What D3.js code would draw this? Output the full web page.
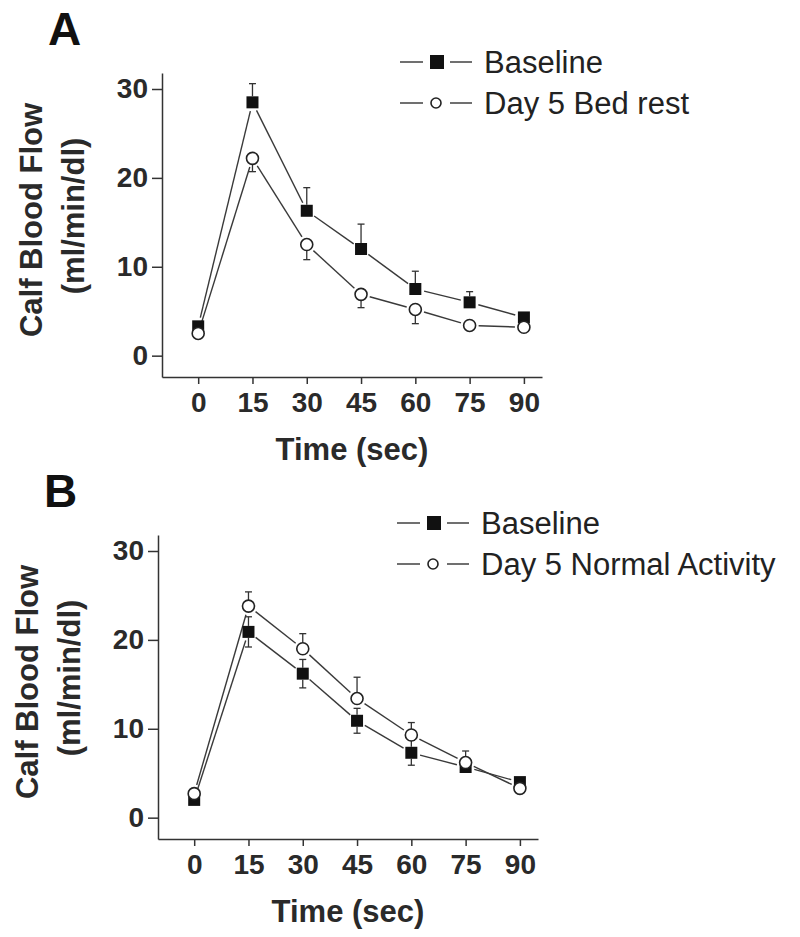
<!DOCTYPE html>
<html><head><meta charset="utf-8">
<script src="https://cdn.jsdelivr.net/npm/d3@7"></script>
<style>
html,body{margin:0;padding:0;background:#fff;}
svg{display:block;font-family:"Liberation Sans",Arial,sans-serif;}
</style></head>
<body>
<svg id="chart" width="800" height="937"></svg>
<script>
// ---- data ----
const times = [0, 15, 30, 45, 60, 75, 90];
const xTicks = [0, 15, 30, 45, 60, 75, 90];
const yTicks = [0, 10, 20, 30];

const baselineA    = [3.3, 28.5, 16.3, 12.0, 7.5, 6.0, 4.3];
const baselineA_se = [0.3, 2.1, 2.6, 2.8, 2.0, 1.2, 0.3];
const bedRest      = [2.5, 22.2, 12.5, 6.9, 5.2, 3.4, 3.2];
const bedRest_se   = [0.3, 1.5, 1.7, 1.5, 1.6, 0.3, 0.4];

const baselineB    = [2.0, 20.9, 16.2, 10.9, 7.3, 5.7, 4.0];
const baselineB_se = [0.3, 1.7, 1.6, 1.4, 1.4, 0.7, 0.3];
const normalAct    = [2.7, 23.8, 19.0, 13.4, 9.3, 6.2, 3.3];
const normalAct_se = [0.3, 1.6, 1.7, 2.4, 1.4, 1.3, 0.3];

const legendA = ["Baseline", "Day 5 Bed rest"];
const legendB = ["Baseline", "Day 5 Normal Activity"];

const yLabel1 = "Calf Blood Flow";
const yLabel2 = "(ml/min/dl)";
const xLabel = "Time (sec)";

// ---- drawing ----
const svg = d3.select("#chart");
const INK = "#2a2a2a";

function panel(cfg) {
  const g = svg.append("g");
  const x = d3.scaleLinear().domain([-10, 95]).range([cfg.left, cfg.left + 380]);
  const y = d3.scaleLinear().domain([-2.4, 31.8]).range([cfg.bottom, cfg.bottom - 304]);

  const ya = g.append("g").attr("transform", `translate(${cfg.left},0)`)
    .call(d3.axisLeft(y).tickValues(yTicks).tickSize(10).tickSizeOuter(0).tickPadding(4));
  ya.selectAll("text").attr("font-size", 28).attr("font-weight", "bold").attr("fill", INK)
    .attr("font-family", "Liberation Sans, Arial, sans-serif");
  const xa = g.append("g").attr("transform", `translate(0,${cfg.bottom})`)
    .call(d3.axisBottom(x).tickValues(xTicks).tickSize(7).tickSizeOuter(0).tickPadding(8));
  xa.selectAll("text").attr("font-size", 28).attr("font-weight", "bold").attr("fill", INK)
    .attr("font-family", "Liberation Sans, Arial, sans-serif");
  g.selectAll(".domain, .tick line").attr("stroke", "#333").attr("stroke-width", 1.5);

  g.append("text").attr("x", cfg.left - 114).attr("y", cfg.bottom - 332)
    .attr("font-size", 46).attr("font-weight", "bold").attr("fill", "#111").text(cfg.letter);

  const cy = cfg.bottom - 157;
  g.append("text").attr("transform", `translate(${cfg.left - 120},${cy}) rotate(-90)`)
    .attr("text-anchor", "middle").attr("font-size", 31).attr("font-weight", "bold").attr("fill", INK)
    .text(yLabel1);
  g.append("text").attr("transform", `translate(${cfg.left - 78},${cy - 4}) rotate(-90)`)
    .attr("text-anchor", "middle").attr("font-size", 31).attr("font-weight", "bold").attr("fill", INK)
    .text(yLabel2);
  g.append("text").attr("x", cfg.left + 190).attr("y", cfg.bottom + 83)
    .attr("text-anchor", "middle").attr("font-size", 31).attr("font-weight", "bold").attr("fill", INK)
    .text(xLabel);

  const gap = 9;
  cfg.series.forEach(s => {
    const pts = times.map((t, i) => [x(t), y(s.values[i])]);
    const segs = d3.pairs(pts).map(([a, b]) => {
      const dx = b[0] - a[0], dy = b[1] - a[1], L = Math.hypot(dx, dy);
      const ux = dx / L, uy = dy / L;
      return [a[0] + ux * gap, a[1] + uy * gap, b[0] - ux * gap, b[1] - uy * gap];
    });
    g.append("g").selectAll("line").data(segs).join("line")
      .attr("x1", d => d[0]).attr("y1", d => d[1]).attr("x2", d => d[2]).attr("y2", d => d[3])
      .attr("stroke", "#3a3a3a").attr("stroke-width", 1.4);
  });

  cfg.series.forEach(s => {
    const eg = g.append("g").attr("stroke", "#333").attr("stroke-width", 1.3);
    times.forEach((t, i) => {
      const cx = x(t);
      s.dirs.forEach(dir => {
        const v = s.values[i] + dir * s.se[i];
        const y0 = y(s.values[i]), y1 = y(v);
        if (Math.abs(y1 - y0) < 6.5) return;
        eg.append("line").attr("x1", cx).attr("x2", cx).attr("y1", y0 - dir * 6).attr("y2", y1);
        eg.append("line").attr("x1", cx - 3.5).attr("x2", cx + 3.5).attr("y1", y1).attr("y2", y1);
      });
    });
  });

  cfg.series.forEach(s => {
    const mg = g.append("g");
    times.forEach((t, i) => {
      const cx = x(t), cyy = y(s.values[i]);
      if (s.shape === "square") {
        mg.append("rect").attr("x", cx - 6).attr("y", cyy - 6).attr("width", 12).attr("height", 12)
          .attr("fill", "#111");
      } else {
        mg.append("circle").attr("cx", cx).attr("cy", cyy).attr("r", 6)
          .attr("fill", "#fff").attr("stroke", "#222").attr("stroke-width", 1.6);
      }
    });
  });

  const lg = g.append("g");
  cfg.series.forEach((s, i) => {
    const ly = cfg.legendY + i * 41;
    const lx = cfg.legendX;
    lg.append("line").attr("x1", lx).attr("x2", lx + 23).attr("y1", ly).attr("y2", ly)
      .attr("stroke", "#333").attr("stroke-width", 1.4);
    lg.append("line").attr("x1", lx + 50).attr("x2", lx + 72).attr("y1", ly).attr("y2", ly)
      .attr("stroke", "#333").attr("stroke-width", 1.4);
    if (s.shape === "square") {
      lg.append("rect").attr("x", lx + 30).attr("y", ly - 7).attr("width", 14).attr("height", 14).attr("fill", "#111");
    } else {
      lg.append("circle").attr("cx", lx + 36).attr("cy", ly).attr("r", 5)
        .attr("fill", "#fff").attr("stroke", "#222").attr("stroke-width", 1.6);
    }
    lg.append("text").attr("x", lx + 84).attr("y", ly).attr("dy", "0.36em")
      .attr("font-size", 31).attr("fill", "#222").text(cfg.legend[i]);
  });
}

panel({
  letter: "A", left: 162, bottom: 377, legendX: 400, legendY: 62, legend: legendA,
  series: [
    { values: baselineA, se: baselineA_se, dirs: [1], shape: "square" },
    { values: bedRest, se: bedRest_se, dirs: [-1], shape: "circle" }
  ]
});
panel({
  letter: "B", left: 158, bottom: 839, legendX: 397, legendY: 523, legend: legendB,
  series: [
    { values: baselineB, se: baselineB_se, dirs: [1, -1], shape: "square" },
    { values: normalAct, se: normalAct_se, dirs: [1], shape: "circle" }
  ]
});
</script>
</body></html>
